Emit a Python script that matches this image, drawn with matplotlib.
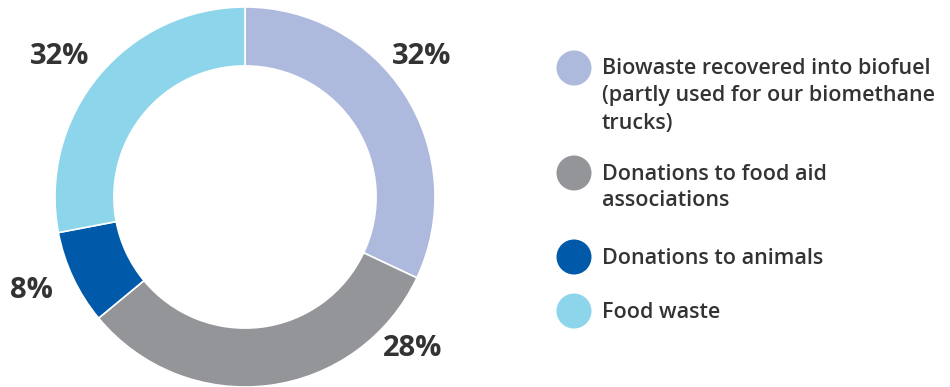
import matplotlib.pyplot as plt
from matplotlib.patches import Circle

# wedge shares as drawn (clockwise from 12 o'clock)
categories = ["Biowaste recovered into biofuel\n(partly used for our biomethane\ntrucks)",
              "Donations to food aid\nassociations",
              "Donations to animals",
              "Food waste"]
shares = [32, 32, 8, 28]
pct_labels = ["32%", "28%", "8%", "32%"]
colors = ["#AEB9DE", "#949599", "#0059A9", "#8DD5EA"]

TXT = "#333333"
FONT = "Open Sans"

fig = plt.figure(figsize=(9.5, 3.87), dpi=100)
W, H = 950, 387

# donut: centre (245, 197) px, radius 190 px
cx, cy, r = 245, 197, 190
ax = fig.add_axes([(cx - r) / W, (H - cy - r) / H, 2 * r / W, 2 * r / H])
ax.pie(shares, colors=colors, startangle=90, counterclock=False, radius=1,
       wedgeprops=dict(width=0.31, edgecolor="white", linewidth=1.2))
ax.set_xlim(-1, 1)
ax.set_ylim(-1, 1)
ax.axis("off")

# overlay in pixel coordinates for labels and legend
ov = fig.add_axes([0, 0, 1, 1])
ov.set_xlim(0, W)
ov.set_ylim(H, 0)
ov.axis("off")

label_pos = [(422, 57), (413, 349), (31, 290), (60, 57)]
for (x, y), t in zip(label_pos, pct_labels):
    ov.text(x, y, t, ha="center", va="center", fontsize=21, fontweight="bold",
            color=TXT, family=FONT)

legend_y = [68, 173, 257, 311]
for y, name, c in zip(legend_y, categories, colors):
    ov.add_patch(Circle((574, y), 17.5, color=c, lw=0))
    for k, line in enumerate(name.split("\n")):
        ov.text(602, y + 1 + k * 27, line, ha="left", va="center", fontsize=15.5,
                fontweight="semibold", color=TXT, family=FONT)

fig.savefig("out.png", dpi=100)
